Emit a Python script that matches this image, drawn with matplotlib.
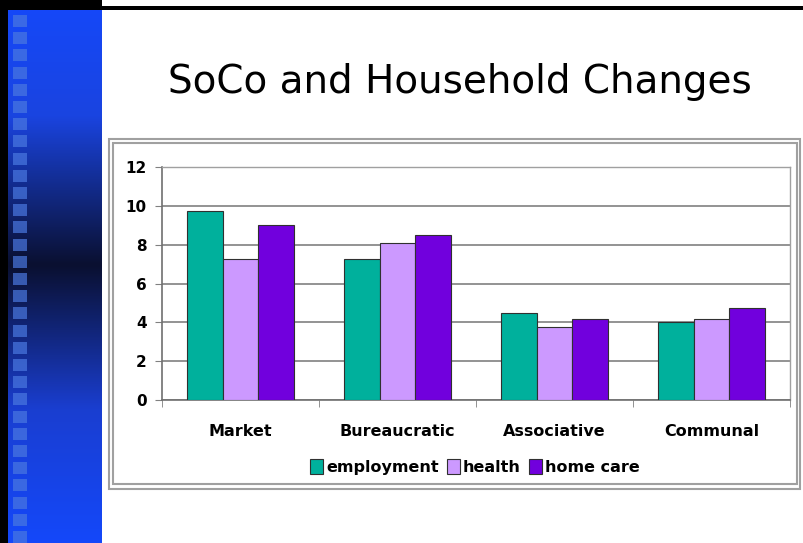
import numpy as np
import matplotlib
matplotlib.use("Agg")
import matplotlib.pyplot as plt
from matplotlib.colors import LinearSegmentedColormap
from matplotlib.patches import Rectangle, Patch

# data
categories = ["Market", "Bureaucratic", "Associative", "Communal"]
series_names = ["employment", "health", "home care"]
employment = [9.75, 7.25, 4.5, 4.0]
health = [7.28, 8.07, 3.74, 4.15]
home_care = [9.03, 8.49, 4.18, 4.75]
y_ticks = [0, 2, 4, 6, 8, 10, 12]

colors = ["#00B09C", "#CC99FF", "#7100DD"]

W, H = 804, 543
fig = plt.figure(figsize=(W / 100, H / 100), dpi=100)
fig.patch.set_facecolor("white")

# background layer in pixel coordinates (slide decoration)
bg = fig.add_axes([0, 0, 1, 1])
bg.set_xlim(0, W)
bg.set_ylim(H, 0)
bg.axis("off")

cmap = LinearSegmentedColormap.from_list(
    "side", [(0, "#1548F8"), (0.2, "#1A44E0"), (0.48, "#0A1030"),
             (0.75, "#1A3ED0"), (1, "#1448FA")])
grad = np.linspace(0, 1, 256).reshape(-1, 1)
bg.imshow(grad, cmap=cmap, extent=(8, 102, H, 8), aspect="auto", zorder=1)
for i in range(31):
    y0 = 15 + i * 17.2
    bg.add_patch(Rectangle((13, y0), 14, 12, facecolor="#4A78E0",
                           alpha=0.7, edgecolor="none", zorder=2))
bg.add_patch(Rectangle((0, 0), 8, H, facecolor="black", zorder=3))
bg.add_patch(Rectangle((0, 6), W, 4, facecolor="black", zorder=3))
bg.add_patch(Rectangle((0, 0), 102, 8, facecolor="black", zorder=3))

# chart frame (double grey line)
bg.add_patch(Rectangle((109, 139), 691, 350, facecolor="none",
                       edgecolor="#A0A0A0", lw=1.5, zorder=2))
bg.add_patch(Rectangle((113, 143), 684, 341, facecolor="white",
                       edgecolor="#A0A0A0", lw=1.5, zorder=2))

bg.text(460, 82, "SoCo and Household Changes", ha="center", va="center",
        fontsize=28, color="black", zorder=4)

# bar chart
ax = fig.add_axes([162 / W, 1 - 400 / H, (790 - 162) / W, (400 - 167) / H])
ax.set_facecolor("white")
x = np.arange(len(categories))
bw = 0.228
for k, (vals, name) in enumerate(zip([employment, health, home_care], series_names)):
    ax.bar(x + (k - 1) * bw, vals, bw, color=colors[k], edgecolor="#303030",
           linewidth=0.8, label=name, zorder=3)

ax.set_xlim(-0.5, len(categories) - 0.5)
ax.set_ylim(0, 12)
ax.set_yticks(y_ticks)
ax.set_yticklabels([str(t) for t in y_ticks], fontsize=11, fontweight="bold")
ax.yaxis.grid(True, color="#808080", linewidth=1.2, zorder=0)
ax.tick_params(axis="y", length=5, color="#808080", pad=6)

ax.set_xticks(x)
ax.set_xticklabels(categories, fontsize=11.5, fontweight="bold")
ax.tick_params(axis="x", which="major", length=0, pad=17)
ax.set_xticks(np.arange(-0.5, len(categories), 1.0), minor=True)
ax.tick_params(axis="x", which="minor", length=5, color="#808080", direction="out")

for side in ["left", "bottom"]:
    ax.spines[side].set_color("#707070")
    ax.spines[side].set_linewidth(1.2)
for side in ["top", "right"]:
    ax.spines[side].set_color("#A0A0A0")
    ax.spines[side].set_linewidth(1.0)

handles = [Patch(facecolor=c, edgecolor="#303030", linewidth=0.8) for c in colors]
fig.legend(handles, series_names, loc="center", bbox_to_anchor=(475 / W, 1 - 467 / H),
           ncol=3, frameon=False, prop={"weight": "bold", "size": 11.5},
           handlelength=0.8, handleheight=1.1, handletextpad=0.2,
           columnspacing=0.5)

fig.savefig("out.png", dpi=100)
